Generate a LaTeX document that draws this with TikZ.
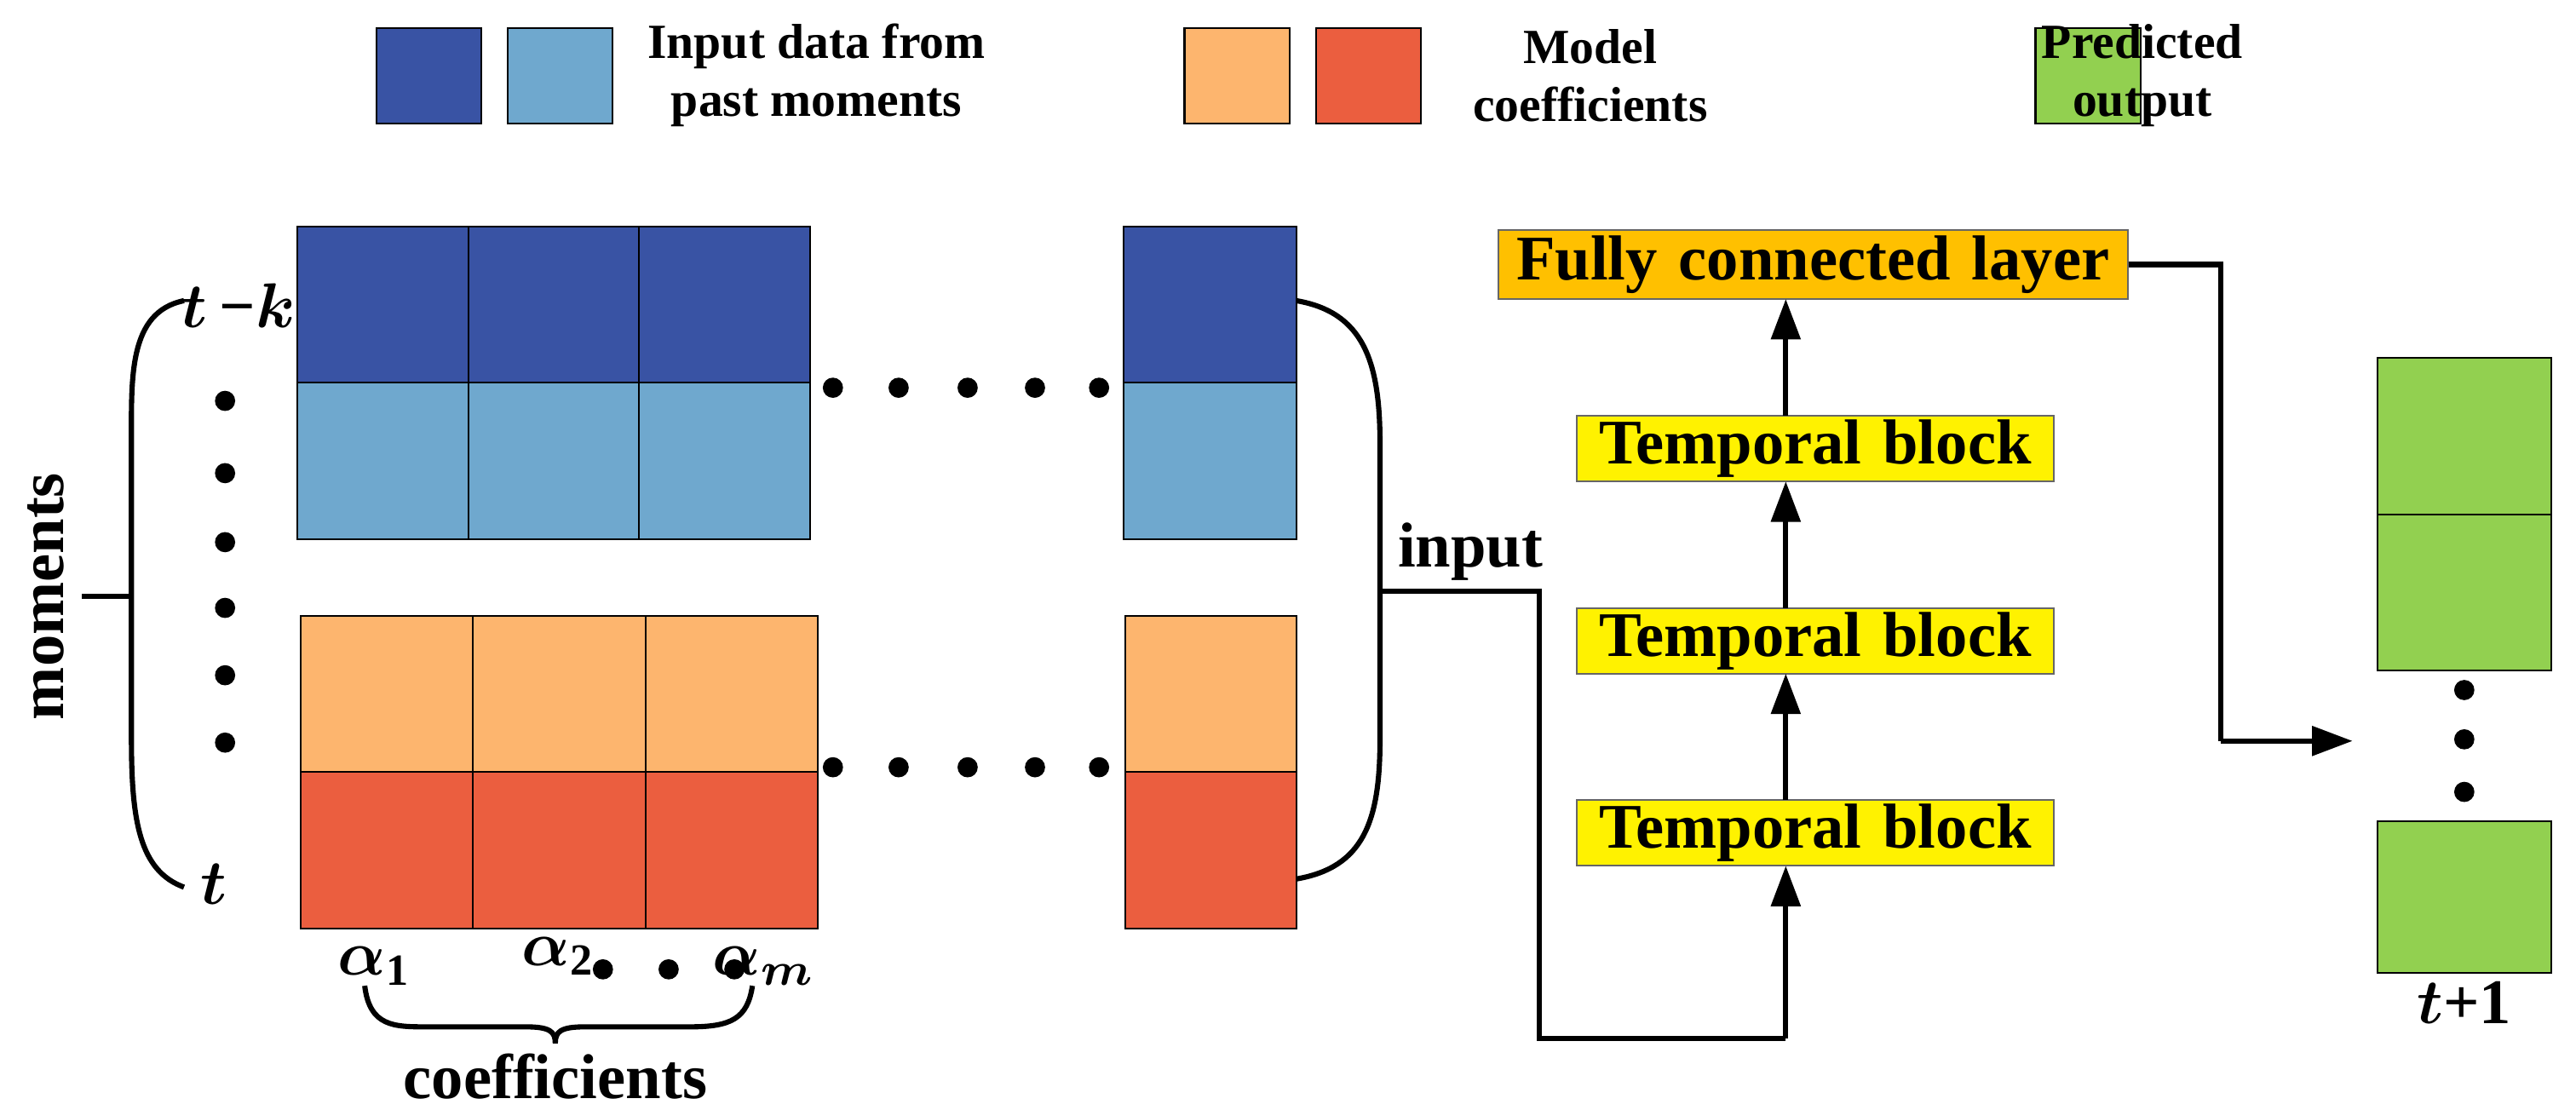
\documentclass[tikz,border=0pt]{standalone}
\usepackage{amsmath}
\usepackage{bm}
\usepackage{fontspec}
\setmainfont{Liberation Serif}
\usetikzlibrary{arrows.meta}
\definecolor{dblue}{HTML}{3953A4}
\definecolor{lblue}{HTML}{6FA8CE}
\definecolor{lorange}{HTML}{FDB56E}
\definecolor{dred}{HTML}{EB5E3F}
\definecolor{lgreen}{HTML}{92D050}
\definecolor{fcor}{HTML}{FFC000}
\begin{document}
\begin{tikzpicture}[x=0.01cm,y=-0.01cm,
  cell/.style={draw=black,line width=0.3pt},
  lab/.style={font=\fontsize{8.5}{10}\selectfont\bfseries,align=center},
  blk/.style={draw=black!60,line width=0.3pt,fill=yellow,font=\fontsize{11}{12}\selectfont\bfseries,inner sep=0pt,minimum height=0.4cm,text width=2.9cm,align=center},
  ln/.style={line width=0.9pt},
  arr/.style={line width=0.9pt,-{Triangle[length=7pt,width=5pt]}},
  dot/.style={circle,fill=black,inner sep=0pt,minimum size=3.5pt},
  big/.style={font=\fontsize{11}{12}\selectfont\bfseries\itshape}]
\useasboundingbox (0,0) rectangle (1568,679);
% legend
\fill[dblue,draw=black,line width=0.3pt] (229,17) rectangle (293,75);
\fill[lblue,draw=black,line width=0.3pt] (309,17) rectangle (373,75);
\node[lab] (l1) at (497,46) {Input data from\\past moments};
\fill[lorange,draw=black,line width=0.3pt] (721,17) rectangle (785,75);
\fill[dred,draw=black,line width=0.3pt] (801,17) rectangle (865,75);
\node[lab] (l2) at (968,46) {Model\\coefficients};
\fill[lgreen,draw=black,line width=0.3pt] (1239,17) rectangle (1303,75);
\node[lab] (l3) at (1304,46) {Predicted\\output};
% grids
\foreach \i in {0,1,2}{
 \filldraw[cell,fill=dblue] (181+104*\i,138) rectangle (285+104*\i,233);
 \filldraw[cell,fill=lblue] (181+104*\i,233) rectangle (285+104*\i,328);
 \filldraw[cell,fill=lorange] (183+105*\i,375) rectangle (288+105*\i,470);
 \filldraw[cell,fill=dred] (183+105*\i,470) rectangle (288+105*\i,565);}
\filldraw[cell,fill=dblue] (684,138) rectangle (789,233);
\filldraw[cell,fill=lblue] (684,233) rectangle (789,328);
\filldraw[cell,fill=lorange] (685,375) rectangle (789,470);
\filldraw[cell,fill=dred] (685,470) rectangle (789,565);
\foreach \x in {507,547,589,630,669}{\node[dot] at (\x,236){}; \node[dot] at (\x,467){};}
% left
\node[big] (tk) at (145,186) {$\bm{t}$\,\textbf{−}$\bm{k}$};
\foreach \y in {244,288,330,370,411,452}{\node[dot] at (137,\y){};}
\node[big] (t) at (130,538) {$\bm{t}$};
\draw[ln] (112,183) .. controls (78,190) and (80,230) .. (80,270) -- (80,450) .. controls (80,500) and (85,530) .. (112,540);
\draw[ln] (50,363) -- (80,363);
\node[rotate=90,font=\fontsize{11}{12}\selectfont\bfseries] (mom) at (28,363) {moments};
% coefficients
\node[big] (a1) at (228,588) {$\bm{\alpha}_{\mathbf 1}$};
\node[big] (a2) at (340,582) {$\bm{\alpha}_{\mathbf 2}$};
\node[big] (am) at (465,588) {$\bm{\alpha}_{\bm m}$};
\foreach \x in {367,407,447}{\node[dot] at (\x,590){};}
\draw[ln] (222,600) .. controls (225,625) and (240,625) .. (260,625) -- (320,625) .. controls (335,625) and (338,628) .. (338,635)
  .. controls (338,628) and (341,625) .. (356,625) -- (420,625) .. controls (445,625) and (455,620) .. (458,600);
\node[font=\fontsize{11}{12}\selectfont\bfseries] (coef) at (338,655) {coefficients};
% right brace + input path
\draw[ln] (789,183) .. controls (830,190) and (840,220) .. (840,270) -- (840,450) .. controls (840,500) and (830,528) .. (789,535);
\node[font=\fontsize{11}{12}\selectfont\bfseries] (inp) at (895,336) {input};
\node[blk] (b1) at (1105,507) {Temporal block};
\node[blk] (b2) at (1105,390) {Temporal block};
\node[blk] (b3) at (1105,273) {Temporal block};
\node[draw=black!60,line width=0.3pt,fill=fcor,font=\fontsize{11}{12}\selectfont\bfseries,minimum height=0.42cm,text width=3.83cm,align=center,inner sep=0pt] (fc) at (1103.5,161) {Fully connected layer};
\coordinate (c1) at (937,632);
\draw[ln] (840,360) -- (937,360) -- (c1) -- (1087,632);
\draw[arr] (1087,632) -- (1087,527);
\draw[arr] (1087,487) -- (1087,410);
\draw[arr] (1087,370) -- (1087,293);
\draw[arr] (1087,253) -- (1087,182);
% output
\draw[ln] (fc.east) -- (1352,161) -- (1352,451);
\draw[arr] (1352,451) -- (1432,451);
\filldraw[cell,fill=lgreen] (1447,218) rectangle (1553,313);
\filldraw[cell,fill=lgreen] (1447,313) rectangle (1553,408);
\filldraw[cell,fill=lgreen] (1447,500) rectangle (1553,592);
\foreach \y in {420,450,482}{\node[dot] at (1500,\y){};}
\node[font=\fontsize{11}{12}\selectfont\bfseries] (t1) at (1500,610) {$\bm{t}$+1};
\end{tikzpicture}
\end{document}
